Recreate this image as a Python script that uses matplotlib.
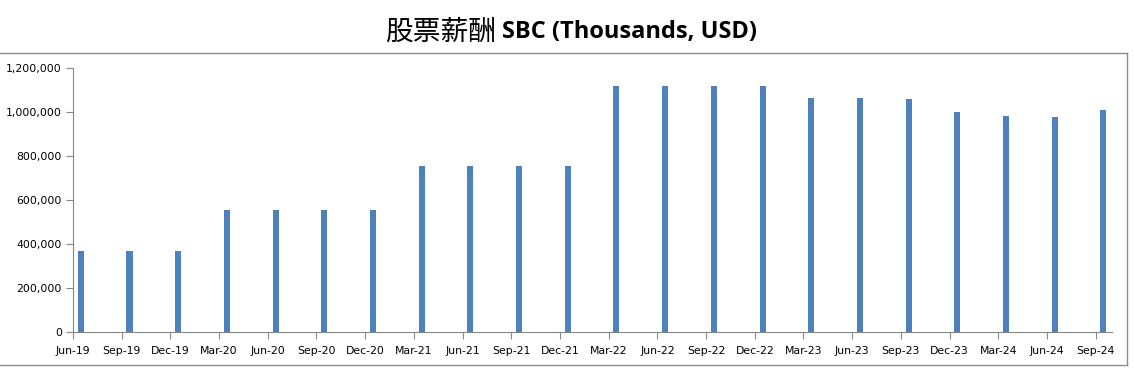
"""Quarterly stock-based compensation bar chart."""

import matplotlib.pyplot as plt
from matplotlib.lines import Line2D
from matplotlib.ticker import FuncFormatter

quarters = [
    "Jun-19", "Sep-19", "Dec-19", "Mar-20", "Jun-20", "Sep-20", "Dec-20",
    "Mar-21", "Jun-21", "Sep-21", "Dec-21", "Mar-22", "Jun-22", "Sep-22",
    "Dec-22", "Mar-23", "Jun-23", "Sep-23", "Dec-23", "Mar-24", "Jun-24",
    "Sep-24",
]
sbc = [
    367000, 367000, 367000, 553000, 553000, 553000, 553000,
    752000, 752000, 752000, 752000, 1117000, 1117000, 1117000,
    1117000, 1062000, 1062000, 1057000, 998000, 980000, 975000,
    1007000,
]

W, H = 1135, 371
fig = plt.figure(figsize=(W / 100, H / 100), dpi=100)
ax = fig.add_axes([73 / W, 1 - 331.7 / H, (1111.7 - 73) / W, (331.7 - 67.7) / H])

positions = list(range(len(quarters)))
ax.bar([p + 0.16 for p in positions], sbc, width=0.125, color="#4F81BD")

ax.set_xlim(0, 21.33)
ax.set_ylim(0, 1200000)
ax.set_yticks(range(0, 1200001, 200000))
ax.yaxis.set_major_formatter(FuncFormatter(lambda v, _: f"{int(v):,}"))
ax.set_xticks(positions)
ax.set_xticklabels(quarters)

for side in ("top", "right"):
    ax.spines[side].set_visible(False)
for side in ("left", "bottom"):
    ax.spines[side].set_color("#868686")
ax.tick_params(axis="both", direction="out", length=5, color="#868686",
               labelsize=7.8, labelcolor="black")
ax.tick_params(axis="x", pad=5)
ax.tick_params(axis="y", pad=3)

# chart frame: top, bottom and right edges
frame = dict(color="#8c8c8c", lw=1.0, transform=fig.transFigure)
fig.add_artist(Line2D([0, 1127 / W], [1 - 53 / H] * 2, **frame))
fig.add_artist(Line2D([0, 1127 / W], [1 - 365 / H] * 2, **frame))
fig.add_artist(Line2D([1127 / W] * 2, [1 - 53 / H, 1 - 365 / H], **frame))

fig.text(496 / W, 1 - 32 / H, "股票薪酬", ha="right", va="center",
         fontsize=20, family=["Noto Sans CJK SC", "DejaVu Sans"])
fig.text(502 / W, 1 - 32 / H, "SBC (Thousands, USD)", ha="left", va="center",
         fontsize=17, fontweight="bold", family="Open Sans")

fig.savefig("out.png", dpi=100)
